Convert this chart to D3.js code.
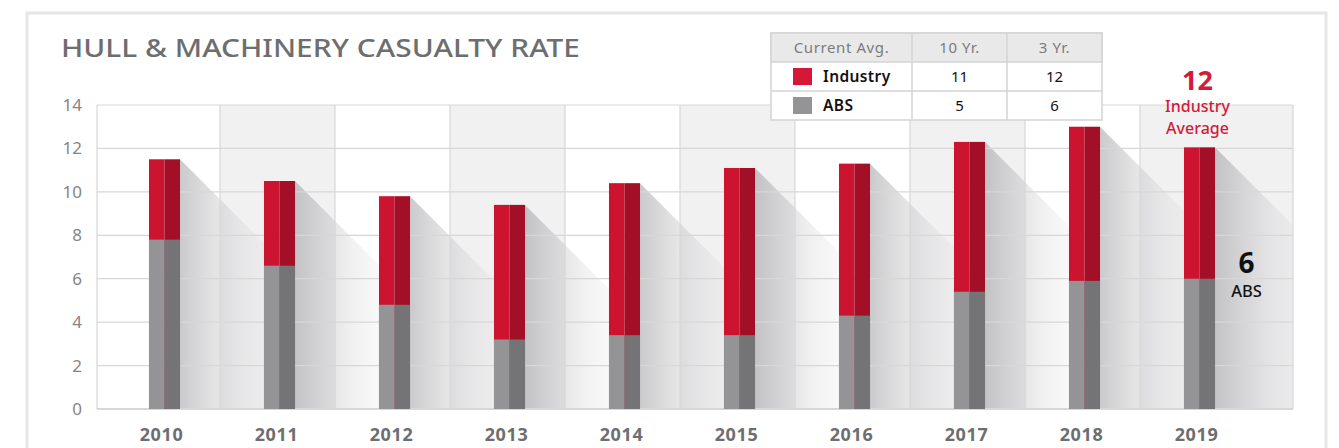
<!DOCTYPE html>
<html>
<head>
<meta charset="utf-8">
<script src="https://cdn.jsdelivr.net/npm/d3@7/dist/d3.min.js"></script>
<style>
  body { margin: 0; background: #fff; }
  svg { display: block; font-family: "Noto Sans", sans-serif; }
</style>
</head>
<body>
<div id="chart"></div>
<script>
// data
const years = ["2010", "2011", "2012", "2013", "2014", "2015", "2016", "2017", "2018", "2019"];
const industry = [11.5, 10.5, 9.8, 9.4, 10.4, 11.1, 11.3, 12.3, 13.0, 12.05];
const abs = [7.8, 6.6, 4.8, 3.2, 3.4, 3.4, 4.3, 5.4, 5.9, 6.0];
const yTicks = [0, 2, 4, 6, 8, 10, 12, 14];
const tableHead = ["Current Avg.", "10 Yr.", "3 Yr."];
const tableRows = [
  { name: "Industry", tenYr: 11, threeYr: 12 },
  { name: "ABS", tenYr: 5, threeYr: 6 }
];

const W = 1339, H = 448;
const plot = { left: 97, right: 1293, top: 105, bottom: 409 };
const red = "#cc1330", redDark = "#a30f26", grey = "#949497", greyDark = "#747476";

const svg = d3.select("#chart").append("svg").attr("width", W).attr("height", H);

// outer frame
svg.append("rect").attr("x", 27).attr("y", 13).attr("width", 1299).attr("height", 460)
  .attr("fill", "none").attr("stroke", "#e6e6e6").attr("stroke-width", 3);

svg.append("text").attr("x", 61).attr("y", 57)
  .attr("fill", "#6d6e70").attr("font-size", 25).attr("font-weight", 500)
  .attr("textLength", 519).attr("lengthAdjust", "spacingAndGlyphs")
  .text("HULL & MACHINERY CASUALTY RATE");

const x = d3.scaleBand().domain(years).range([107, 1257]).paddingInner(0.73).paddingOuter(0.365);
const y = d3.scaleLinear().domain([0, 14]).range([plot.bottom, plot.top]);
const step = x.step();

// alternating column backgrounds
const colEdges = years.map((d, i) => [
  i === 0 ? plot.left : x(d) + x.bandwidth() / 2 - step / 2 - 2,
  i === years.length - 1 ? plot.right : x(d) + x.bandwidth() / 2 + step / 2 - 2
]);
svg.append("g").selectAll("rect").data(colEdges).join("rect")
  .attr("x", d => d[0]).attr("y", plot.top)
  .attr("width", d => d[1] - d[0]).attr("height", plot.bottom - plot.top)
  .attr("fill", (d, i) => i % 2 ? "#f1f1f2" : "#fff");

// shadows
const defs = svg.append("defs");
const grad = defs.append("linearGradient").attr("id", "shade").attr("x1", 0).attr("x2", 1).attr("y1", 0).attr("y2", 0);
grad.append("stop").attr("offset", 0).attr("stop-color", "#8a8a8e").attr("stop-opacity", 0.45);
grad.append("stop").attr("offset", 0.5).attr("stop-color", "#a0a0a4").attr("stop-opacity", 0.15);
grad.append("stop").attr("offset", 1).attr("stop-color", "#c0c0c4").attr("stop-opacity", 0);
defs.append("clipPath").attr("id", "plotClip").append("rect")
  .attr("x", plot.left).attr("y", plot.top).attr("width", plot.right - plot.left).attr("height", plot.bottom - plot.top);

const L = 115;
svg.append("g").attr("clip-path", "url(#plotClip)").selectAll("path").data(years).join("path")
  .attr("fill", "url(#shade)")
  .attr("d", (d, i) => {
    const xr = x(d) + x.bandwidth(), yt = y(industry[i]), y0 = y(0);
    const dd = Math.min(L, y0 - yt);
    return `M${xr},${yt}L${xr + dd},${yt + dd}L${xr + L},${yt + dd}L${xr + L},${y0}L${xr},${y0}Z`;
  });

// gridlines
svg.append("g").selectAll("line").data(yTicks).join("line")
  .attr("x1", plot.left).attr("x2", plot.right)
  .attr("y1", d => y(d)).attr("y2", d => y(d))
  .attr("stroke", "#d7d7d8").attr("stroke-width", d => d === 0 ? 2 : 1.2);
svg.append("g").selectAll("line").data(colEdges.slice(1).map(d => d[0]).concat([plot.left, plot.right])).join("line")
  .attr("x1", d => d).attr("x2", d => d).attr("y1", plot.top).attr("y2", plot.bottom)
  .attr("stroke", "#d7d7d8").attr("stroke-width", 1.2);

// bars: industry (full height) then ABS on top from the base
const bars = svg.append("g");
years.forEach((d, i) => {
  const bw = x.bandwidth(), x0 = x(d);
  const segs = [
    [industry[i], red, redDark],
    [abs[i], grey, greyDark]
  ];
  segs.forEach(([v, c1, c2]) => {
    bars.append("rect").attr("x", x0).attr("y", y(v)).attr("width", bw / 2).attr("height", y(0) - y(v)).attr("fill", c1);
    bars.append("rect").attr("x", x0 + bw / 2).attr("y", y(v)).attr("width", bw / 2).attr("height", y(0) - y(v)).attr("fill", c2);
  });
});

// axes labels
svg.append("g").selectAll("text").data(yTicks).join("text")
  .attr("x", 82).attr("y", d => y(d) + 6).attr("text-anchor", "end")
  .attr("fill", "#858587").attr("font-size", 17).text(d => d);
svg.append("g").selectAll("text").data(years).join("text")
  .attr("x", d => x(d) + x.bandwidth() / 2 - 3).attr("y", 441).attr("text-anchor", "middle")
  .attr("fill", "#6d6e70").attr("font-size", 18).attr("font-weight", 700).attr("letter-spacing", 0.6).text(d => d);

// annotations on the last bar
const last = years[years.length - 1];
const cx = x(last) + x.bandwidth() / 2;
svg.append("text").attr("x", cx - 2).attr("y", 90).attr("text-anchor", "middle")
  .attr("fill", "#d41a3a").attr("font-size", 27).attr("font-weight", 700).text("12");
svg.append("text").attr("x", cx - 2).attr("y", 112).attr("text-anchor", "middle")
  .attr("fill", "#d41a3a").attr("font-size", 16).attr("font-weight", 500).text("Industry");
svg.append("text").attr("x", cx - 2).attr("y", 134).attr("text-anchor", "middle")
  .attr("fill", "#d41a3a").attr("font-size", 16).attr("font-weight", 500).text("Average");
svg.append("text").attr("x", cx + 47).attr("y", 273).attr("text-anchor", "middle")
  .attr("fill", "#111").attr("font-size", 28).attr("font-weight", 700).text("6");
svg.append("text").attr("x", cx + 47).attr("y", 297).attr("text-anchor", "middle")
  .attr("fill", "#111").attr("font-size", 16.5).attr("font-weight", 500).text("ABS");

// summary table
const tb = { x: 771, y: 33, cols: [141, 95, 95], rowH: 29 };
const tg = svg.append("g");
tg.append("rect").attr("x", tb.x).attr("y", tb.y).attr("width", d3.sum(tb.cols)).attr("height", tb.rowH * 3)
  .attr("fill", "#fff").attr("stroke", "#d3d3d4").attr("stroke-width", 1.5);
tg.append("rect").attr("x", tb.x).attr("y", tb.y).attr("width", d3.sum(tb.cols)).attr("height", tb.rowH)
  .attr("fill", "#e9e9ea").attr("stroke", "#d3d3d4").attr("stroke-width", 1.5);
const colX = [tb.x, tb.x + tb.cols[0], tb.x + tb.cols[0] + tb.cols[1], tb.x + d3.sum(tb.cols)];
[1, 2].forEach(c => tg.append("line").attr("x1", colX[c]).attr("x2", colX[c]).attr("y1", tb.y).attr("y2", tb.y + tb.rowH * 3).attr("stroke", "#d3d3d4").attr("stroke-width", 1.5));
tg.append("line").attr("x1", tb.x).attr("x2", colX[3]).attr("y1", tb.y + tb.rowH * 2).attr("y2", tb.y + tb.rowH * 2).attr("stroke", "#d3d3d4").attr("stroke-width", 1.5);
tableHead.forEach((h, c) => {
  tg.append("text").attr("x", (colX[c] + colX[c + 1]) / 2).attr("y", tb.y + 20).attr("text-anchor", "middle")
    .attr("fill", "#7b7b7d").attr("font-size", 15).attr("letter-spacing", 0.6).text(h);
});
const swatch = ["#d6173a", grey];
tableRows.forEach((r, i) => {
  const ry = tb.y + tb.rowH * (i + 1);
  tg.append("rect").attr("x", 793).attr("y", ry + 6).attr("width", 19).attr("height", 17).attr("fill", swatch[i]);
  tg.append("text").attr("x", 823).attr("y", ry + 20).attr("fill", "#111").attr("font-size", 15.5).attr("font-weight", 600).attr("letter-spacing", 0.4).text(r.name);
  tg.append("text").attr("x", (colX[1] + colX[2]) / 2).attr("y", ry + 20).attr("text-anchor", "middle").attr("fill", "#111").attr("font-size", 15).text(r.tenYr);
  tg.append("text").attr("x", (colX[2] + colX[3]) / 2).attr("y", ry + 20).attr("text-anchor", "middle").attr("fill", "#111").attr("font-size", 15).text(r.threeYr);
});
</script>
</body>
</html>
